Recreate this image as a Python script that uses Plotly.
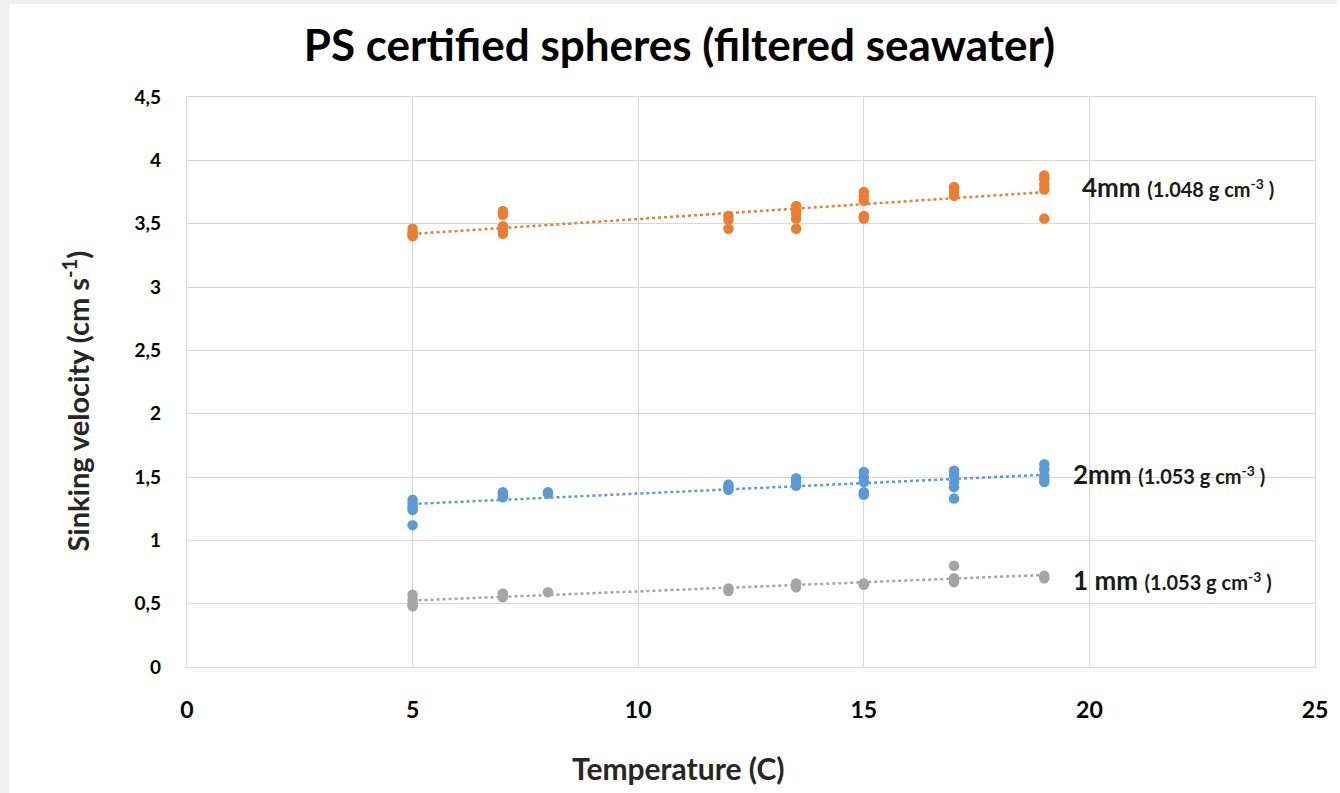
import numpy as np
import plotly.graph_objects as go

# ---- data ----
temp_4mm = [5, 5, 5, 5, 7, 7, 7, 7, 7, 12, 12, 12, 13.5, 13.5, 13.5, 13.5, 13.5,
            15, 15, 15, 15, 15, 17, 17, 17, 19, 19, 19, 19, 19]
vel_4mm = [3.46, 3.43, 3.41, 3.40, 3.60, 3.57, 3.48, 3.45, 3.42, 3.56, 3.53, 3.46,
           3.64, 3.61, 3.58, 3.54, 3.46, 3.75, 3.72, 3.68, 3.56, 3.54,
           3.79, 3.76, 3.72, 3.88, 3.85, 3.81, 3.77, 3.54]

temp_2mm = [5, 5, 5, 5, 5, 7, 7, 7, 8, 8, 12, 12, 12, 13.5, 13.5, 13.5,
            15, 15, 15, 15, 15, 17, 17, 17, 17, 17, 19, 19, 19, 19, 19]
vel_2mm = [1.32, 1.29, 1.26, 1.24, 1.12, 1.38, 1.36, 1.34, 1.38, 1.37,
           1.44, 1.42, 1.40, 1.49, 1.46, 1.43,
           1.54, 1.50, 1.46, 1.38, 1.36, 1.55, 1.51, 1.46, 1.42, 1.33,
           1.60, 1.56, 1.51, 1.48, 1.46]

temp_1mm = [5, 5, 5, 5, 7, 7, 8, 12, 12, 13.5, 13.5, 15, 15, 17, 17, 17, 19, 19]
vel_1mm = [0.57, 0.53, 0.50, 0.48, 0.58, 0.55, 0.59, 0.62, 0.60, 0.66, 0.63,
           0.66, 0.65, 0.80, 0.70, 0.67, 0.72, 0.70]

x_ticks = [0, 5, 10, 15, 20, 25]
y_ticks = [0, 0.5, 1, 1.5, 2, 2.5, 3, 3.5, 4, 4.5]
y_tick_labels = ["0", "0,5", "1", "1,5", "2", "2,5", "3", "3,5", "4", "4,5"]

series = [
    ("4mm", temp_4mm, vel_4mm, "#ED7D31"),
    ("2mm", temp_2mm, vel_2mm, "#5B9BD5"),
    ("1mm", temp_1mm, vel_1mm, "#A5A5A5"),
]
# label text, x position (data), y position (data)
labels = [
    ("4mm", "(1.048 g cm<sup>-3</sup> )", 19.8, 3.79),
    ("2mm", "(1.053 g cm<sup>-3</sup> )", 19.6, 1.52),
    ("1 mm", "(1.053 g cm<sup>-3</sup> )", 19.6, 0.69),
]

FONT = "Lato"
fig = go.Figure()
for name, xs, ys, col in series:
    xs_a = np.array(xs, float)
    ys_a = np.array(ys, float)
    k, b = np.polyfit(xs_a, ys_a, 1)
    xl = np.array([xs_a.min(), xs_a.max()])
    fig.add_trace(go.Scatter(x=xl, y=k * xl + b, mode="lines",
                             line=dict(color=col, width=2.5, dash="dot"),
                             showlegend=False, hoverinfo="skip"))
    fig.add_trace(go.Scatter(x=xs, y=ys, mode="markers", name=name,
                             marker=dict(color=col, size=10.5),
                             showlegend=False))

for big, small, xv, yv in labels:
    txt = f"<b>{big}</b> <b><span style='font-size:20px'>{small}</span></b>"
    fig.add_annotation(x=xv, y=yv, text=txt, showarrow=False,
                       xanchor="left", yanchor="middle",
                       font=dict(family=FONT, size=26, color="#1a1a1a"))

# axis titles (placed as in the reference, centred on the page rather than the plot)
fig.add_annotation(text="<b>Temperature (C)</b>", xref="paper", yref="paper",
                   x=0.4356, y=-0.177, xanchor="center", yanchor="middle",
                   showarrow=False, font=dict(family=FONT, size=30, color="#262626"))
fig.add_annotation(text="<b>Sinking velocity (cm s<sup>-1</sup>)</b>", xref="paper", yref="paper",
                   x=-0.0988, y=0.4667, xanchor="center", yanchor="middle", textangle=-90,
                   showarrow=False, font=dict(family=FONT, size=29, color="#262626"))

# grey frame strips of the surrounding page
fig.add_shape(type="rect", xref="paper", yref="paper", x0=-0.17, x1=-0.1578,
              y0=-0.3, y1=1.2, fillcolor="#f0f0f0", line_width=0, layer="below")
fig.add_shape(type="rect", xref="paper", yref="paper", x0=-0.17, x1=1.02,
              y0=1.1632, y1=1.2, fillcolor="#f0f0f0", line_width=0, layer="below")

fig.update_layout(
    width=1340, height=793,
    margin=dict(l=187, r=19, t=97, b=126),
    paper_bgcolor="white", plot_bgcolor="white",
    title=dict(text="<b>PS certified spheres (filtered seawater)</b>",
               x=0.507, xref="container", xanchor="center",
               y=0.943, yref="container", yanchor="middle",
               font=dict(family=FONT, size=44, color="black")),
    font=dict(family=FONT, color="black"),
    xaxis=dict(range=[0, 25], tickvals=x_ticks,
               ticktext=[f"<b>{v}</b>" for v in x_ticks],
               showgrid=True, gridcolor="#d9d9d9", gridwidth=1.3,
               zeroline=False, showline=True, linecolor="#d9d9d9", linewidth=1.3,
               mirror=True, ticks="outside", ticklen=22, tickcolor="rgba(0,0,0,0)",
               tickfont=dict(family=FONT, size=23, color="black")),
    yaxis=dict(range=[0, 4.5], tickvals=y_ticks,
               ticktext=[f"<b>{t}</b>" for t in y_tick_labels],
               showgrid=True, gridcolor="#d9d9d9", gridwidth=1.3,
               zeroline=False, showline=True, linecolor="#d9d9d9", linewidth=1.3,
               mirror=True, ticks="outside", ticklen=21, tickcolor="rgba(0,0,0,0)",
               tickfont=dict(family=FONT, size=19, color="black")),
)

fig.write_html("out.html", post_script="document.body.style.margin='0px';",
               config={"displayModeBar": False})
